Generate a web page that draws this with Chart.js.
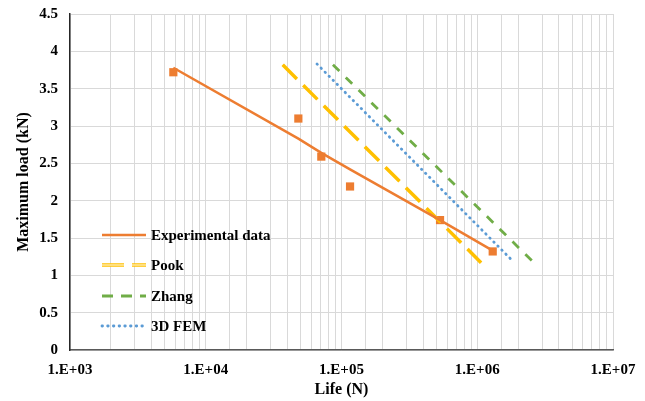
<!DOCTYPE html>
<html>
<head>
  <title>Maximum load vs life</title>
  <script src="https://cdn.jsdelivr.net/npm/chart.js"></script>
  <style>
    body { margin: 0; background: #fff; }
    div { width: 645px; height: 401px; }
  </style>
</head>
<body>
<div>
  <canvas id="lifeChart"></canvas>
</div>

<script>
  // experimental points (markers)
  const expLife = [5770, 48100, 71000, 115600, 532000, 1300000];
  const expLoad = [3.72, 3.10, 2.59, 2.19, 1.74, 1.32];
  // fitted experimental curve, read at the same lives
  const fitLoad = [3.78, 2.83, 2.64, 2.42, 1.74, 1.33];

  // model predictions (end points of each line)
  const pookLife = [36900, 1067000];
  const pookLoad = [3.82, 1.17];
  const zhangLife = [86500, 2580000];
  const zhangLoad = [3.82, 1.18];
  const femLife = [66000, 1830000];
  const femLoad = [3.83, 1.19];

  const yTicks = [0, 0.5, 1, 1.5, 2, 2.5, 3, 3.5, 4, 4.5];
  const seriesNames = ['Experimental data', 'Pook', 'Zhang', '3D FEM'];

  const FONT = 'Liberation Serif';
  const ORANGE = '#ED7D31', YELLOW = '#FFC000', GREEN = '#70AD47', BLUE = '#5B9BD5';
  const PALE = '#FFE9A8';

  function pts(xs, ys) {
    return xs.map((x, i) => ({ x: x, y: ys[i] }));
  }

  function lineSet(label, xs, ys, color, width, dash, cap) {
    return {
      label: label,
      data: pts(xs, ys),
      showLine: true,
      borderColor: color,
      borderWidth: width,
      borderDash: dash,
      borderCapStyle: cap || 'butt',
      pointRadius: 0,
      fill: false
    };
  }

  const datasets = [
    lineSet('Experimental data', expLife, fitLoad, ORANGE, 2.5, []),
    lineSet('Pook', pookLife, pookLoad, YELLOW, 3.5, [20, 9]),
    lineSet('Pook inner', pookLife, pookLoad, PALE, 1.4, [20, 9]),
    lineSet('Zhang', zhangLife, zhangLoad, GREEN, 2.8, [9, 9]),
    lineSet('3D FEM', femLife, femLoad, BLUE, 2.8, [0.5, 5.2], 'round'),
    {
      label: 'points',
      data: pts(expLife, expLoad),
      showLine: false,
      pointStyle: 'rect',
      pointRadius: 5.8,
      pointBorderWidth: 0,
      backgroundColor: ORANGE,
      borderColor: ORANGE
    }
  ];

  // legend drawn inside the plot, like the spreadsheet one
  const legendStyles = [
    { color: ORANGE, width: 2.5, dash: [], inner: null },
    { color: YELLOW, width: 3.5, dash: [22, 8], inner: PALE },
    { color: GREEN, width: 2.8, dash: [11, 8], inner: null },
    { color: BLUE, width: 2.8, dash: [0.5, 5.2], inner: null, cap: 'round' }
  ];
  const innerLegend = {
    id: 'innerLegend',
    afterDatasetsDraw(chart) {
      const ctx = chart.ctx;
      const rows = [235, 265, 296, 326];
      ctx.save();
      seriesNames.forEach((name, i) => {
        const s = legendStyles[i];
        const y = rows[i];
        ctx.beginPath();
        ctx.setLineDash(s.dash);
        ctx.lineCap = s.cap || 'butt';
        ctx.strokeStyle = s.color;
        ctx.lineWidth = s.width;
        ctx.moveTo(102, y);
        ctx.lineTo(146, y);
        ctx.stroke();
        if (s.inner) {
          ctx.lineWidth = 1.4;
          ctx.strokeStyle = s.inner;
          ctx.stroke();
        }
        ctx.setLineDash([]);
        ctx.fillStyle = '#000';
        ctx.font = 'bold 15px "' + FONT + '"';
        ctx.textBaseline = 'middle';
        ctx.fillText(name, 151, y + 1);
      });
      ctx.restore();
    }
  };

  function decadeLabel(v) {
    const e = Math.log10(v);
    if (Math.abs(e - Math.round(e)) > 1e-9) return '';
    const n = Math.round(e);
    return '1.E+' + (n < 10 ? '0' + n : n);
  }

  new Chart(document.getElementById('lifeChart'), {
    type: 'scatter',
    data: { datasets: datasets },
    options: {
      responsive: true,
      maintainAspectRatio: false,
      animation: false,
      layout: { padding: { top: 14, right: 32, left: 0, bottom: 0 } },
      plugins: {
        legend: { display: false },
        tooltip: { enabled: false }
      },
      scales: {
        x: {
          type: 'logarithmic',
          min: 1000,
          max: 10000000,
          afterFit: s => { s.height = 51; },
          grid: { color: '#d9d9d9', lineWidth: 1, tickLength: 9, tickColor: 'rgba(0,0,0,0)' },
          border: { color: '#595959', width: 1.5 },
          ticks: {
            autoSkip: false,
            maxRotation: 0,
            padding: 2,
            color: '#000',
            font: { family: FONT, size: 15, weight: 'bold' },
            callback: v => decadeLabel(v)
          },
          title: {
            display: true,
            text: 'Life (N)',
            color: '#000',
            padding: { top: 0, bottom: 2 },
            font: { family: FONT, size: 16, weight: 'bold' }
          }
        },
        y: {
          min: 0,
          max: 4.5,
          afterFit: s => { s.width = 70; },
          afterBuildTicks: s => { s.ticks = yTicks.map(v => ({ value: v })); },
          grid: { color: '#d9d9d9', lineWidth: 1, tickLength: 10, tickColor: 'rgba(0,0,0,0)' },
          border: { color: '#262626', width: 1.5 },
          ticks: {
            padding: 2,
            color: '#000',
            font: { family: FONT, size: 15, weight: 'bold' },
            callback: v => String(v)
          },
          title: {
            display: true,
            text: 'Maximum load (kN)',
            color: '#000',
            padding: { top: 14, bottom: 0 },
            font: { family: FONT, size: 16, weight: 'bold' }
          }
        }
      }
    },
    plugins: [innerLegend]
  });
</script>
</body>
</html>
